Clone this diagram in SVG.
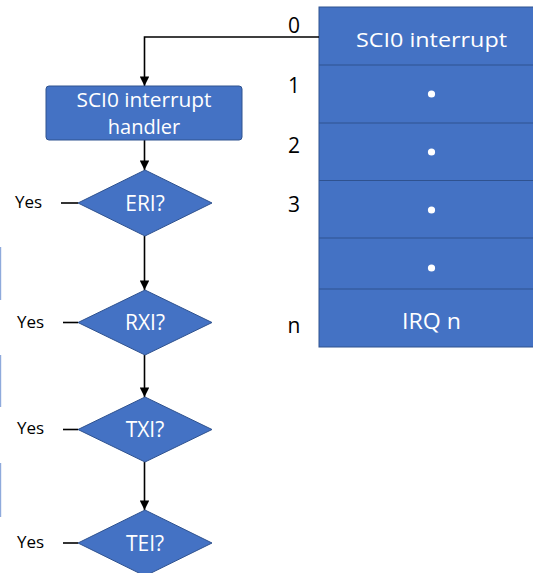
<svg xmlns="http://www.w3.org/2000/svg" width="533" height="573" viewBox="0 0 533 573">
  <style>
    .shape { fill: #4472C4; stroke: #2F528F; stroke-width: 1; }
    .divider { stroke: #2F528F; stroke-width: 1.2; }
    .wt { fill: #FFFFFF; font-family: "Open Sans", "Liberation Sans", sans-serif; text-anchor: middle; }
    .bt { fill: #000000; font-family: "Open Sans", "Liberation Sans", sans-serif; }
    .conn { stroke: #000000; stroke-width: 1.6; fill: none; }
  </style>
  <defs>
    <marker id="arrow" viewBox="0 0 10 10" refX="10" refY="5" markerWidth="6.5" markerHeight="6" orient="auto" markerUnits="strokeWidth">
      <path d="M0,0 L10,5 L0,10 z" fill="#000000"/>
    </marker>
  </defs>

  <rect width="533" height="573" fill="#FFFFFF"/>

  <!-- boxes cut off at the left margin -->
  <g id="edge-boxes" fill="#8FAADC">
    <rect x="0" y="247" width="1.2" height="53"/>
    <rect x="0" y="355" width="1.2" height="52"/>
    <rect x="0" y="463" width="1.2" height="54"/>
  </g>

  <!-- vector table -->
  <g id="vector-table">
    <rect class="shape" x="319" y="7" width="230" height="340"/>
    <line class="divider" x1="319" y1="65" x2="533" y2="65"/>
    <line class="divider" x1="319" y1="123" x2="533" y2="123"/>
    <line class="divider" x1="319" y1="180.5" x2="533" y2="180.5"/>
    <line class="divider" x1="319" y1="238" x2="533" y2="238"/>
    <line class="divider" x1="319" y1="289" x2="533" y2="289"/>
    <text class="wt" x="431.5" y="47" font-size="20.5" textLength="151" lengthAdjust="spacingAndGlyphs">SCI0 interrupt</text>
    <circle cx="431.5" cy="94" r="3.6" fill="#FFFFFF"/>
    <circle cx="431.5" cy="152" r="3.6" fill="#FFFFFF"/>
    <circle cx="431.5" cy="210" r="3.6" fill="#FFFFFF"/>
    <circle cx="431.5" cy="268" r="3.6" fill="#FFFFFF"/>
    <text class="wt" x="431.5" y="329" font-size="21.5" textLength="59" lengthAdjust="spacingAndGlyphs">IRQ n</text>
  </g>

  <!-- vector numbers -->
  <g id="vector-numbers" class="bt" font-size="21" text-anchor="middle">
    <text x="294" y="33">0</text>
    <text x="294" y="93">1</text>
    <text x="294" y="153">2</text>
    <text x="294" y="212">3</text>
    <text x="294" y="333">n</text>
  </g>

  <!-- connectors -->
  <g id="connectors">
    <polyline class="conn" points="319,37 144.5,37 144.5,86" marker-end="url(#arrow)"/>
    <line class="conn" x1="144.5" y1="140" x2="144.5" y2="170" marker-end="url(#arrow)"/>
    <line class="conn" x1="144.5" y1="236" x2="144.5" y2="290" marker-end="url(#arrow)"/>
    <line class="conn" x1="144.5" y1="355" x2="144.5" y2="397" marker-end="url(#arrow)"/>
    <line class="conn" x1="144.5" y1="462" x2="144.5" y2="510" marker-end="url(#arrow)"/>
    <line class="conn" x1="61" y1="203" x2="78" y2="203"/>
    <line class="conn" x1="63" y1="322.5" x2="78" y2="322.5"/>
    <line class="conn" x1="63" y1="429.5" x2="78" y2="429.5"/>
    <line class="conn" x1="63" y1="543" x2="78" y2="543"/>
  </g>

  <!-- handler -->
  <g id="handler">
    <rect class="shape" x="46" y="86" width="196" height="54" rx="3"/>
    <text class="wt" x="144" y="107" font-size="20" textLength="135" lengthAdjust="spacingAndGlyphs">SCI0 interrupt</text>
    <text class="wt" x="144" y="134" font-size="20">handler</text>
  </g>

  <!-- decisions -->
  <g id="eri">
    <polygon class="shape" points="145,170 212,203 145,236 78,203"/>
    <text class="wt" x="145" y="210.5" font-size="21">ERI?</text>
  </g>
  <g id="rxi">
    <polygon class="shape" points="145,290 212,322.5 145,355 78,322.5"/>
    <text class="wt" x="145" y="330" font-size="21">RXI?</text>
  </g>
  <g id="txi">
    <polygon class="shape" points="145,397 212,429.5 145,462 78,429.5"/>
    <text class="wt" x="145" y="437" font-size="21">TXI?</text>
  </g>
  <g id="tei">
    <polygon class="shape" points="145,510 212,543 145,576 78,543"/>
    <text class="wt" x="145" y="550.5" font-size="21">TEI?</text>
  </g>

  <!-- branch labels -->
  <g id="yes-labels" class="bt" font-size="17">
    <text x="15" y="208">Yes</text>
    <text x="17" y="328">Yes</text>
    <text x="17" y="434">Yes</text>
    <text x="17" y="548">Yes</text>
  </g>
</svg>
